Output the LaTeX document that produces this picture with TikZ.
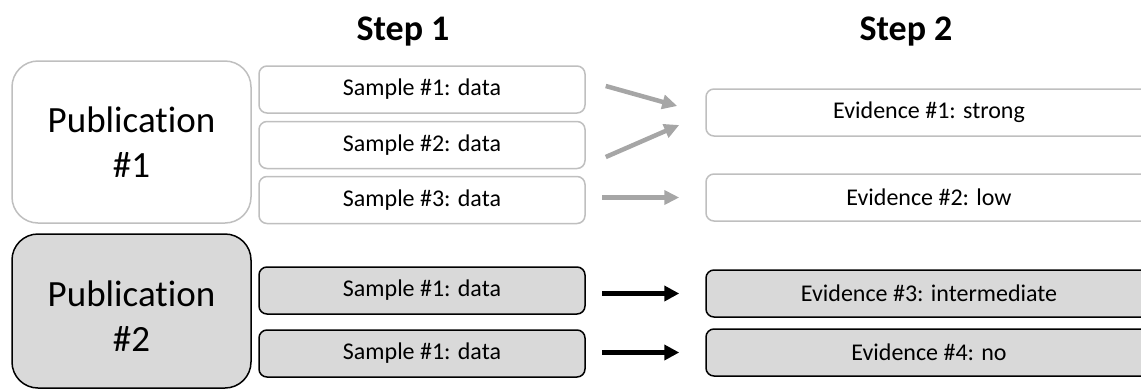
\documentclass[tikz,border=0pt]{standalone}
\usepackage{fontspec}
\setmainfont{Carlito}[RawFeature=-liga]
\usetikzlibrary{arrows.meta,calc}
\definecolor{lgray}{RGB}{191,191,191}
\definecolor{agray}{RGB}{166,166,166}
\definecolor{fgray}{RGB}{217,217,217}
\begin{document}
\begin{tikzpicture}[x=1pt,y=-1pt,
  box/.style={draw=lgray, line width=1.5pt, fill=white, rounded corners=8pt, inner sep=0pt, font=\fontsize{24}{29}\selectfont},
  darkbox/.style={box, draw=black, fill=fgray},
  samplebox/.style={minimum width=326pt, minimum height=47pt},
  evbox/.style={minimum width=446pt, minimum height=47pt},
  pubbox/.style={rounded corners=26pt, minimum width=239pt, align=center, font=\fontsize{37}{45}\selectfont},
  title/.style={font=\bfseries\fontsize{36}{43}\selectfont, anchor=base},
  garrow/.style={draw=agray, line width=4.5pt, -{Triangle[length=15pt,width=14pt]}},
  barrow/.style={draw=black, line width=5pt, -{Triangle[length=15pt,width=15pt]}}]
\useasboundingbox (0,0) rectangle (1141,389);
\clip (0,0) rectangle (1141,389);

\node[title] (t1) at (403,40) {Step 1};
\node[title] (t2) at (906,40) {Step 2};

\node[box,pubbox,minimum height=162pt] (p1) at (131.5,142) {Publication\\\#1};
\node[darkbox,pubbox,minimum height=154pt] (p2) at (131.5,311) {\rule{0pt}{36pt}Publication\\\#2};

\node[box,samplebox] (s1) at (422,89.5) {Sample \#1: data};
\node[box,samplebox] (s2) at (422,145) {Sample \#2: data};
\node[box,samplebox] (s3) at (422,200) {Sample \#3: data};
\node[darkbox,samplebox] (s4) at (422,290.5) {Sample \#1: data};
\node[darkbox,samplebox] (s5) at (422,353.5) {Sample \#1: data};

\node[box,evbox] (e1) at (929,112.5) {Evidence \#1: strong};
\node[box,evbox] (e2) at (929,197.5) {Evidence \#2: low};
\node[darkbox,evbox] (e3) at (929,293.5) {Evidence \#3: intermediate};
\node[darkbox,evbox] (e4) at (929,352.5) {Evidence \#4: no};

\draw[garrow] ($(s1.east)+(20,-3.5)$) -- ($(e1.west)+(-28,-6.5)$);
\draw[garrow] ($(s2.east)+(20,12)$) -- ($(e1.west)+(-26,12.5)$);
\draw[garrow] ($(e2.west)+(-103,0)$) -- ($(e2.west)+(-26,0)$);
\draw[barrow] ($(e3.west)+(-103,0)$) -- ($(e3.west)+(-26,0)$);
\draw[barrow] ($(e4.west)+(-103,0)$) -- ($(e4.west)+(-26,0)$);
\end{tikzpicture}
\end{document}
